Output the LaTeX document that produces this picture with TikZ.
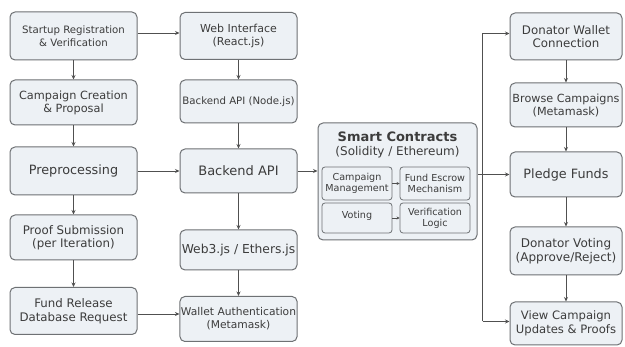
\documentclass[tikz,border=0pt]{standalone}
\usepackage{fontspec}
\setmainfont{DejaVu Sans}
\usetikzlibrary{arrows.meta,calc}
\definecolor{boxfill}{HTML}{EDF1F5}
\definecolor{boxdraw}{HTML}{6E7174}
\definecolor{txt}{HTML}{3C3C3C}
\definecolor{arrc}{HTML}{505050}
\newcommand{\fs}[1]{\fontsize{#1}{#1*1.15}\selectfont}
\tikzset{
  box/.style={draw=boxdraw, fill=boxfill, rounded corners=5pt, line width=1pt,
    align=center, text=txt, font=\fontsize{11}{13}\selectfont, inner sep=1pt},
  inbox/.style={draw=boxdraw, fill=boxfill, rounded corners=3pt, line width=0.8pt,
    align=center, text=txt, font=\fontsize{9.6}{10.8}\selectfont, inner sep=0.5pt,
    minimum width=70pt},
  arr/.style={draw=arrc, line width=0.8pt, -{Stealth[length=4.5pt,width=4pt]}},
  sarr/.style={draw=arrc, line width=0.6pt, -{Stealth[length=3pt,width=3pt]}},
}
\begin{document}
\begin{tikzpicture}[x=1pt,y=-1pt]
\useasboundingbox[fill=white] (0,0) rectangle (625,347);
% left column
\node[box, minimum width=127pt, minimum height=48pt, font=\fontsize{10.2}{13}\selectfont] (L1) at (73.5,36) {Startup Registration\\\& Verification};
\node[box, minimum width=127pt, minimum height=45pt, font=\fontsize{11.3}{13}\selectfont] (L2) at (73.5,102.5) {Campaign Creation\\\& Proposal};
\node[box, minimum width=127pt, minimum height=48pt, font=\fontsize{12.8}{14}\selectfont] (L3) at (73.5,171) {Preprocessing};
\node[box, minimum width=127pt, minimum height=45pt, font=\fontsize{11.8}{13.5}\selectfont] (L4) at (73.5,237.5) {Proof Submission\\(per Iteration)};
\node[box, minimum width=127pt, minimum height=47pt, font=\fontsize{11.8}{13.5}\selectfont] (L5) at (73.5,311) {Fund Release\\Database Request};
% center column
\node[box, minimum width=117pt, minimum height=47pt, font=\fontsize{11}{13}\selectfont] (C1) at (238.5,36) {Web Interface\\(React.js)};
\node[box, minimum width=117pt, minimum height=43pt, font=\fontsize{10.2}{12}\selectfont] (C2) at (238.5,101.5) {Backend API (Node.js)};
\node[box, minimum width=117pt, minimum height=44pt, font=\fontsize{13}{14}\selectfont] (C3) at (238.5,171) {Backend API};
\node[box, minimum width=117pt, minimum height=40pt, font=\fontsize{12.3}{14}\selectfont] (C4) at (238.5,250) {Web3.js / Ethers.js};
\node[box, minimum width=117pt, minimum height=45pt, font=\fontsize{10.7}{13}\selectfont] (C5) at (238.5,319) {Wallet Authentication\\(Metamask)};
% smart contracts
\node[box, minimum width=159pt, minimum height=117pt] (SC) at (397.5,181.5) {};
\node[text=txt, font=\bfseries\fontsize{13}{15}\selectfont, inner sep=0pt] (SCt) at (397.5,136.5) {Smart Contracts};
\node[text=txt, font=\fontsize{12}{13}\selectfont, inner sep=0pt] (SCs) at (397.5,152.5) {(Solidity / Ethereum)};
\node[inbox, minimum height=33pt] (CM) at (357,183.5) {Campaign\\Management};
\node[inbox, minimum height=33pt] (FE) at (435,183.5) {Fund Escrow\\Mechanism};
\node[inbox, minimum height=30pt] (VO) at (357,218) {\raisebox{6pt}{Voting}};
\node[inbox, minimum height=30pt] (VL) at (435,218) {Verification\\Logic};
% right column
\node[box, minimum width=112pt, minimum height=47pt, font=\fontsize{11.8}{13.5}\selectfont] (R1) at (566,36.5) {Donator Wallet\\Connection};
\node[box, minimum width=112pt, minimum height=44pt, font=\fontsize{11.2}{13}\selectfont] (R2) at (566,105) {Browse Campaigns\\(Metamask)};
\node[box, minimum width=112pt, minimum height=45pt, font=\fontsize{12.8}{14}\selectfont] (R3) at (566,174.5) {Pledge Funds};
\node[box, minimum width=112pt, minimum height=48pt, font=\fontsize{12}{14}\selectfont] (R4) at (566,251) {Donator Voting\\(Approve/Reject)};
\node[box, minimum width=112pt, minimum height=43pt, font=\fontsize{11.6}{13.5}\selectfont] (R5) at (566,323.5) {View Campaign\\Updates \& Proofs};
% arrows left column
\draw[arr] (L1) -- (L2);
\draw[arr] (L2) -- (L3);
\draw[arr] (L3) -- (L4);
\draw[arr] (L4) -- (L5);
% center column
\draw[arr] (C1) -- (C2);
\draw[arr] (C2) -- (C3);
\draw[arr] (C3) -- (C4);
\draw[arr] (C4) -- (C5);
% right column
\draw[arr] (R1) -- (R2);
\draw[arr] (R2) -- (R3);
\draw[arr] (R3) -- (R4);
\draw[arr] (R4) -- (R5);
% horizontal
\draw[arr] ($(L1.east)+(0,-3)$) -- ($(L1.east -| C1.west)+(0,-3)$);
\draw[arr] (L3.east) -- (L3.east -| C3.west);
\draw[arr] ($(L5.east)+(0,3)$) -- ($(L5.east -| C5.west)+(0,3)$);
\draw[arr] (C3.east) -- (C3.east -| SC.west);
\draw[sarr] (CM) -- (FE);
\draw[sarr] (VO) -- (VL);
% branch
\coordinate (J) at ($(SC.east |- R3.west)+(5,0)$);
\coordinate (JT) at ($(J |- R1.west)+(0,-3)$);
\coordinate (JB) at ($(J |- R5.west)+(0,-2)$);
\draw[draw=arrc, line width=0.8pt] (SC.east |- R3.west) -- (J);
\draw[arr] (J) -- (R3.west);
\draw[draw=arrc, line width=0.8pt] (JB) -- (JT);
\draw[arr] (JT) -- (JT -| R1.west);
\draw[arr] (JB) -- (JB -| R5.west);
\end{tikzpicture}
\end{document}
